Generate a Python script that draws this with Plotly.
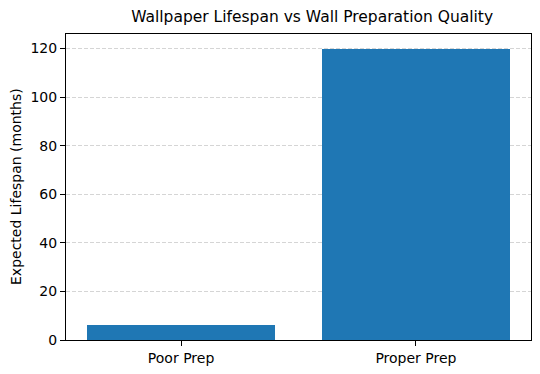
import plotly.graph_objects as go

categories = ["Poor Prep", "Proper Prep"]
lifespan_months = [6, 120]
y_ticks = [0, 20, 40, 60, 80, 100, 120]

fig = go.Figure(go.Bar(
    x=[0, 1], y=lifespan_months, width=0.8,
    marker=dict(color="#1f77b4", line=dict(width=0)),
))

fig.update_layout(
    width=540, height=374,
    margin=dict(l=66, r=9, t=34, b=34, autoexpand=False),
    paper_bgcolor="white", plot_bgcolor="white",
    font=dict(family="DejaVu Sans", size=14, color="black"),
    title=dict(text="Wallpaper Lifespan vs Wall Preparation Quality",
               x=0.578, xanchor="center", y=0.955, yanchor="middle",
               font=dict(size=15.5, color="black")),
    showlegend=False,
    bargap=0,
)
fig.add_annotation(
    text="Expected Lifespan (months)", textangle=-90,
    xref="paper", yref="paper", x=(16 - 66) / 465, y=0.5,
    xanchor="center", yanchor="middle", showarrow=False,
    font=dict(size=14, color="black"),
)
fig.update_xaxes(
    range=[-0.49, 1.49], tickvals=[0, 1], ticktext=categories,
    showline=True, linecolor="black", linewidth=1, mirror=True,
    ticks="outside", ticklen=5, tickcolor="black", showgrid=False, zeroline=False,
    tickfont=dict(size=14), automargin=False,
)
fig.update_yaxes(
    range=[0, 126], tickvals=y_ticks,
    showline=True, linecolor="black", linewidth=1, mirror=True,
    ticks="outside", ticklen=5, tickcolor="black",
    showgrid=True, gridcolor="rgba(150,150,150,0.4)", griddash="4px,2px", gridwidth=1,
    zeroline=False,
    tickfont=dict(size=14), automargin=False,
)

fig.write_html("out.html", config={"displayModeBar": False},
               post_script="document.body.style.margin='0';document.body.style.padding='0';")
